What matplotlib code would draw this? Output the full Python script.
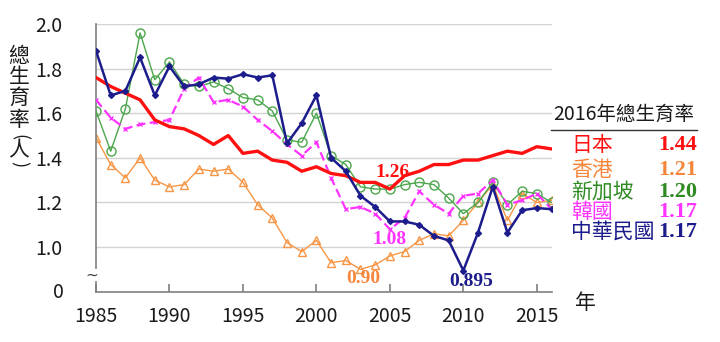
import matplotlib
matplotlib.use("Agg")
import matplotlib.pyplot as plt
from matplotlib.lines import Line2D

CJK = ["Noto Sans CJK TC", "DejaVu Sans"]
SERIF = ["Liberation Serif", "DejaVu Serif"]
plt.rcParams["font.family"] = CJK

years = list(range(1985, 2017))

japan = [1.76, 1.72, 1.69, 1.66, 1.57, 1.54, 1.53, 1.50, 1.46, 1.50, 1.42, 1.43,
         1.39, 1.38, 1.34, 1.36, 1.33, 1.32, 1.29, 1.29, 1.26, 1.32, 1.34, 1.37,
         1.37, 1.39, 1.39, 1.41, 1.43, 1.42, 1.45, 1.44]
hongkong = [1.49, 1.37, 1.31, 1.40, 1.30, 1.27, 1.28, 1.35, 1.34, 1.35, 1.29, 1.19,
            1.13, 1.02, 0.98, 1.03, 0.93, 0.94, 0.90, 0.92, 0.96, 0.98, 1.03, 1.06,
            1.05, 1.12, 1.20, 1.28, 1.12, 1.24, 1.20, 1.21]
singapore = [1.61, 1.43, 1.62, 1.96, 1.75, 1.83, 1.73, 1.72, 1.74, 1.71, 1.67, 1.66,
             1.61, 1.48, 1.47, 1.60, 1.41, 1.37, 1.27, 1.26, 1.26, 1.28, 1.29, 1.28,
             1.22, 1.15, 1.20, 1.29, 1.19, 1.25, 1.24, 1.20]
korea = [1.66, 1.58, 1.53, 1.55, 1.56, 1.57, 1.71, 1.76, 1.65, 1.66, 1.63, 1.57,
         1.52, 1.46, 1.41, 1.47, 1.31, 1.17, 1.18, 1.15, 1.08, 1.13, 1.25, 1.19,
         1.15, 1.23, 1.24, 1.30, 1.19, 1.21, 1.24, 1.17]
taiwan = [1.88, 1.68, 1.70, 1.85, 1.68, 1.81, 1.72, 1.73, 1.76, 1.755, 1.775, 1.76,
          1.77, 1.465, 1.555, 1.68, 1.40, 1.34, 1.23, 1.18, 1.115, 1.115, 1.10, 1.05,
          1.03, 0.895, 1.065, 1.27, 1.065, 1.165, 1.175, 1.17]

xticks = [1985, 1990, 1995, 2000, 2005, 2010, 2015]
yticks = [1.0, 1.2, 1.4, 1.6, 1.8, 2.0]

legend_names = ["日本", "香港", "新加坡", "韓國", "中華民國"]
legend_values = ["1.44", "1.21", "1.20", "1.17", "1.17"]
legend_colors = ["#FF1010", "#F7853A", "#2E8B22", "#FF33FF", "#1C1C8C"]

# callouts: (text, year, value, colour)
callouts = [("1.26", 2005.2, 1.335, "#FF1010"),
            ("1.08", 2004.95, 1.033, "#FF33FF"),
            ("0.90", 2003.2, 0.857, "#F7853A"),
            ("0.895", 2010.55, 0.846, "#1C1C8C")]

W, H = 720, 342
fig = plt.figure(figsize=(W / 100, H / 100), dpi=100)
x0, x1, y0, y1 = 96, 551.5, 24, 291.7
ax = fig.add_axes([x0 / W, 1 - y1 / H, (x1 - x0) / W, (y1 - y0) / H])
ax.set_xlim(1985, 2016)
ax.set_ylim(0.8, 2.0)

for y in yticks:
    ax.axhline(y, color="#D3D3D3", lw=1.0, zorder=0)

ax.plot(years, hongkong, color="#F79646", lw=1.0, marker="^", ms=6,
        mfc="none", mec="#F79646", mew=1.0, zorder=2)
ax.plot(years, singapore, color="#4CA64C", lw=1.0, marker="o", ms=6.5,
        mfc="none", mec="#4CA64C", mew=1.0, zorder=3)
ax.plot(years, korea, color="#FF33FF", lw=1.6, ls=(0, (4, 2)), marker="x",
        ms=3.5, mew=1.0, zorder=3)
ax.plot(years, japan, color="#FF1010", lw=2.4, zorder=4)
ax.plot(years, taiwan, color="#1C1C8C", lw=1.8, marker="D", ms=3,
        zorder=5)

for txt, xv, yv, c in callouts:
    ax.text(xv, yv, txt, color=c, fontsize=14, fontweight="bold",
            family=SERIF, ha="center", va="center", zorder=6)

for s in ["top", "right"]:
    ax.spines[s].set_visible(False)
gray = "#7F7F7F"
ax.spines["bottom"].set_color(gray)
ax.spines["left"].set_color(gray)
ax.spines["bottom"].set_linewidth(1.2)
ax.spines["left"].set_linewidth(1.2)
# broken value axis: gap between the "0" and the 1.0 region
ax.spines["left"].set_bounds(0.905, 2.0)
ax.add_line(Line2D([1985, 1985], [0.8, 0.845], color=gray, lw=1.2,
                   clip_on=False, zorder=6))
ax.text(-0.0085, 0.874, "~", transform=ax.get_yaxis_transform(),
        ha="center", va="center", fontsize=11, color="#404040",
        family=["DejaVu Sans"])

ax.set_xticks(xticks)
ax.set_xticklabels([str(v) for v in xticks])
ax.set_yticks(yticks)
ax.set_yticklabels([f"{v:.1f}" for v in yticks])
ax.tick_params(axis="x", direction="in", length=6, width=1.2, color=gray,
               labelsize=14, pad=10, labelcolor="#1A1A1A")
ax.tick_params(axis="y", direction="in", length=0, labelsize=14, pad=24,
               labelcolor="#1A1A1A")
ax.text(58 / W, 1 - 293 / H, "0", transform=fig.transFigure, fontsize=14,
        ha="center", va="center", color="#1A1A1A")

fig.text(585 / W, 1 - 303 / H, "年", fontsize=15, ha="center", va="center",
         color="#1A1A1A")

# stacked vertical axis title; brackets turned to sit in the column
ylab = [("總", 56, 0, 15), ("生", 77, 0, 15), ("育", 98, 0, 15),
        ("率", 120, 0, 15), ("(", 137, -90, 13), ("人", 150, 0, 15),
        (")", 164, -90, 13)]
for ch, yp, rot, fs in ylab:
    fig.text(19 / W, 1 - yp / H, ch, fontsize=fs, ha="center", va="center",
             rotation=rot, color="#1A1A1A")

# 2016 summary table
fig.text(624 / W, 1 - 114 / H, "2016年總生育率", fontsize=14, ha="center",
         va="center", color="#1A1A1A")
fig.add_artist(Line2D([551 / W, 697 / W], [1 - 129.5 / H, 1 - 129.5 / H],
                      color="#333333", lw=1.0))
row_y = [145, 170, 192, 212, 232]
for name, val, c, yp in zip(legend_names, legend_values, legend_colors, row_y):
    fig.text(571 / W, 1 - yp / H, name, fontsize=15, ha="left", va="center",
             color=c)
    fig.text(697 / W, 1 - yp / H, val, fontsize=16, ha="right", va="center",
             color=c, fontweight="bold", family=SERIF)

fig.savefig("out.png", dpi=100, facecolor="white")
